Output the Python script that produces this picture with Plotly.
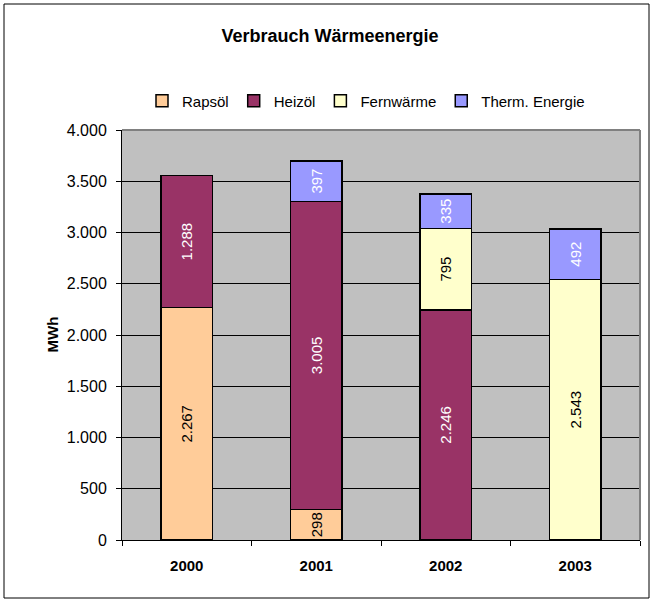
import plotly.graph_objects as go

years = ["2000", "2001", "2002", "2003"]
rapsoel = [2267, 298, None, None]
heizoel = [1288, 3005, 2246, None]
fernwaerme = [None, None, 795, 2543]
therm = [None, 397, 335, 492]

series = [
    ("Rapsöl", rapsoel, "#FFCC99", "black"),
    ("Heizöl", heizoel, "#993366", "white"),
    ("Fernwärme", fernwaerme, "#FFFFCC", "black"),
    ("Therm. Energie", therm, "#9999FF", "white"),
]

FONT = "Liberation Sans, Arial, sans-serif"

fig = go.Figure()
for name, vals, color, tcolor in series:
    fig.add_trace(go.Bar(
        x=years, y=vals, name=name,
        marker=dict(color=color, line=dict(color="black", width=1.5)),
        texttemplate="%{y:,d}", textposition="inside", insidetextanchor="middle",
        textangle=-90, textfont=dict(color=tcolor, size=15, family=FONT),
        cliponaxis=True,
    ))

W, H = 653, 603
L, R, T, B = 122, 640, 130, 540

fig.update_layout(
    width=W, height=H,
    barmode="stack", bargap=0.6,
    separators=",.",
    paper_bgcolor="white", plot_bgcolor="#C0C0C0",
    margin=dict(l=L, r=W - R, t=T, b=H - B, pad=0),
    font=dict(family=FONT, size=15, color="black"),
    uniformtext=dict(mode="show", minsize=15),
    title=dict(text="<b>Verbrauch Wärmeenergie</b>", x=(330 / W), xanchor="center",
               y=1 - 36 / H, yanchor="middle", font=dict(size=18)),
    legend=dict(orientation="h", x=(366 - L) / (R - L), xanchor="center",
                y=1 + (T - 101) / (B - T), yanchor="middle",
                font=dict(size=15), traceorder="normal", bgcolor="rgba(0,0,0,0)",
                itemwidth=30),
    showlegend=True,
)
fig.update_yaxes(range=[0, 4000], dtick=500, tickformat=",d",
                 showgrid=True, gridcolor="#000000", gridwidth=1,
                 showline=True, linecolor="black", linewidth=1,
                 ticks="outside", ticklen=5, tickcolor="black",
                 tickfont=dict(size=16), ticklabelstandoff=6, zeroline=False)
fig.update_xaxes(showline=True, linecolor="black", linewidth=1,
                 ticks="outside", ticklen=5, tickcolor="black", tickson="boundaries",
                 tickfont=dict(size=15), ticklabelstandoff=12,
                 tickvals=years, ticktext=[f"<b>{y}</b>" for y in years])

fig.add_annotation(text="<b>MWh</b>", textangle=-90, x=(41 - L) / (R - L), y=0.5,
                   xref="paper", yref="paper", showarrow=False, font=dict(size=15))
# plot area border (gray on top/right)
fig.add_shape(type="line", xref="paper", yref="paper", x0=0, y0=1, x1=1, y1=1,
              line=dict(color="#808080", width=2))
fig.add_shape(type="line", xref="paper", yref="paper", x0=1, y0=0, x1=1, y1=1,
              line=dict(color="#808080", width=2))
# outer chart border
fig.add_shape(type="rect", xref="paper", yref="paper",
              x0=(4 - L) / (R - L), x1=(649 - L) / (R - L),
              y0=(B - 598) / (B - T), y1=(B - 4) / (B - T),
              line=dict(color="black", width=1))

fig.write_html("out.html", config={"displayModeBar": False},
               post_script="document.body.style.margin='0';")
